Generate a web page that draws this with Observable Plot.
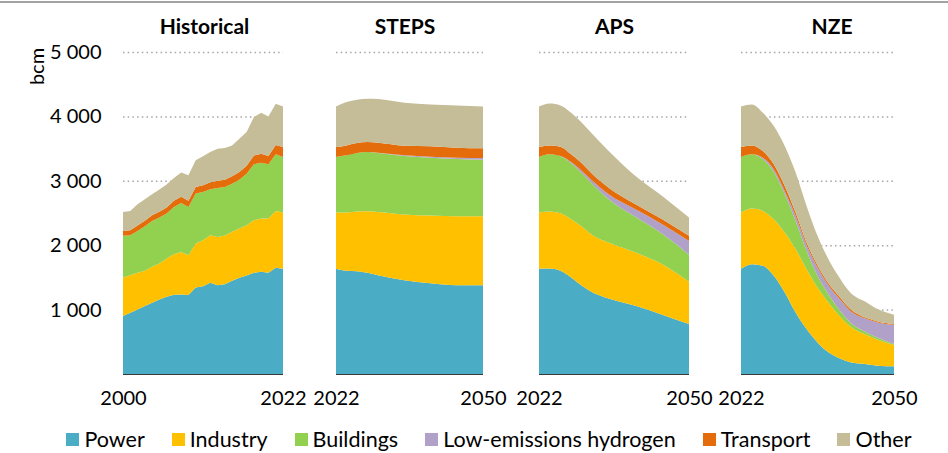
<!DOCTYPE html>
<html><head><meta charset="utf-8">
<script src="https://cdn.jsdelivr.net/npm/d3@7"></script>
<script src="https://cdn.jsdelivr.net/npm/@observablehq/plot@0.6"></script>
<style>
body{margin:0;background:#fff;}
#wrap{position:relative;width:948px;height:453px;overflow:hidden;font-family:Lato,sans-serif;background:#fff;}
#topline{position:absolute;left:0;top:1px;width:948px;height:2px;background:#a3a3a3;}
.panel{position:absolute;left:0;top:0;}
#legend{position:absolute;top:426px;left:0;width:978px;display:flex;justify-content:center;gap:27px;font-size:21.5px;color:#000;line-height:26px;}
.li{display:flex;align-items:center;white-space:nowrap;}
.sw{width:13px;height:13px;margin-right:5px;}
</style></head>
<body><div id="wrap"><div id="topline"></div><div id="legend"></div></div>
<script>
const sectors = ["Power","Industry","Buildings","Low-emissions hydrogen","Transport","Other"];
const colors = ["#4BACC6","#FFC000","#92D050","#B1A0C7","#E46C0A","#C4BD97"];
const yTicks = [1000,2000,3000,4000,5000];
const yTickLabels = ["1 000","2 000","3 000","4 000","5 000"];
const panelTitles = ["Historical","STEPS","APS","NZE"];

// Historical
const histYears = [2000,2001,2002,2003,2004,2005,2006,2007,2008,2009,2010,2011,2012,2013,2014,2015,2016,2017,2018,2019,2020,2021,2022];
const histPower = [899,951,1003,1054,1106,1158,1199,1230,1235,1225,1344,1364,1416,1380,1395,1447,1494,1530,1571,1586,1571,1648,1633];
const histIndustry = [600,584,568,548,558,558,594,630,661,620,682,714,739,749,755,760,764,780,817,827,842,884,874];
const histBuildings = [646,620,651,693,713,713,698,734,760,749,775,749,713,760,754,749,760,801,868,869,843,879,863];
const histHydrogen = [0,0,0,0,0,0,0,0,0,0,0,0,0,0,0,0,0,0,0,0,0,0,0];
const histTransport = [77,78,82,86,88,90,93,96,98,98,103,105,108,110,112,115,118,122,135,138,130,145,154];
const histOther = [294,299,332,332,326,344,357,354,373,393,414,448,471,500,493,479,517,524,599,637,614,640,631];

// STEPS
const stepsYears = [2022,2024,2026,2028,2030,2035,2040,2045,2050];
const stepsPower = [1633,1602,1597,1571,1535,1457,1411,1380,1380];
const stepsIndustry = [874,905,925,956,981,1019,1049,1070,1070];
const stepsBuildings = [863,888,909,920,915,909,899,888,878];
const stepsHydrogen = [0,0,0,2,5,10,15,20,25];
const stepsTransport = [154,155,155,153,156,150,161,156,151];
const stepsOther = [631,672,672,672,677,667,651,657,651];

// APS
const apsYears = [2022,2024,2026,2028,2030,2032,2035,2040,2045,2050];
const apsPower = [1633,1638,1602,1499,1370,1266,1173,1059,920,775];
const apsIndustry = [874,884,894,904,919,889,868,827,785,657];
const apsBuildings = [863,889,884,871,828,790,672,554,471,420];
const apsHydrogen = [0,0,5,18,35,52,78,118,150,215];
const apsTransport = [154,139,145,119,119,104,103,78,77,78];
const apsOther = [631,651,641,646,631,620,569,439,362,284];

// NZE
const nzeYears = [2022,2024,2026,2028,2030,2032,2034,2036,2038,2040,2042,2045,2047,2050];
const nzePower = [1633,1705,1680,1525,1266,956,698,491,336,243,181,150,129,119];
const nzeIndustry = [874,863,852,878,930,982,930,853,775,661,558,455,403,331];
const nzeBuildings = [863,843,801,734,595,439,284,181,129,93,62,41,31,15];
const nzeHydrogen = [0,0,26,41,51,78,88,129,140,176,181,207,238,300];
const nzeTransport = [154,139,103,78,78,51,41,36,31,31,26,15,16,10];
const nzeOther = [631,636,595,594,620,621,569,455,372,295,258,243,191,145];

function toRows(years, series) {
  const rows = [];
  years.forEach((yr, i) => sectors.forEach((s, k) => rows.push({year: yr, sector: s, value: series[k][i]})));
  return rows;
}

const panels = [
  {title: panelTitles[0], years: histYears, series: [histPower,histIndustry,histBuildings,histHydrogen,histTransport,histOther], left: 123, right: 283, curve: "linear", titleDx: 1},
  {title: panelTitles[1], years: stepsYears, series: [stepsPower,stepsIndustry,stepsBuildings,stepsHydrogen,stepsTransport,stepsOther], left: 336, right: 483, curve: "monotone-x", titleDx: -5},
  {title: panelTitles[2], years: apsYears, series: [apsPower,apsIndustry,apsBuildings,apsHydrogen,apsTransport,apsOther], left: 539, right: 689, curve: "monotone-x", titleDx: 0},
  {title: panelTitles[3], years: nzeYears, series: [nzePower,nzeIndustry,nzeBuildings,nzeHydrogen,nzeTransport,nzeOther], left: 741, right: 894, curve: "monotone-x", titleDx: 14}
];

const wrap = document.getElementById("wrap");
panels.forEach((p, idx) => {
  const rows = toRows(p.years, p.series);
  const x0 = p.years[0], x1 = p.years[p.years.length - 1];
  const marks = [
    Plot.ruleY(yTicks, {stroke: "#a6a6a6", strokeWidth: 1.5, strokeDasharray: "1.5 3.2"}),
    Plot.areaY(rows, {x: "year", y: "value", fill: "sector", z: "sector", order: sectors, curve: p.curve}),
    Plot.ruleY([0], {stroke: "#3a3a3a", strokeWidth: 1}),
    Plot.axisX({ticks: [x0, x1], tickSize: 0, tickPadding: 16, tickFormat: d => String(d), fontSize: 20, label: null}),
    Plot.text([p.title], {frameAnchor: "top", lineAnchor: "middle", dy: -25, dx: p.titleDx, fontWeight: "bold", fontSize: 21, fill: "#000"})
  ];
  if (idx === 0) {
    marks.push(Plot.axisY({ticks: yTicks, tickSize: 0, tickPadding: 22, fontSize: 20, tickFormat: d => yTickLabels[yTicks.indexOf(d)], label: null}));
    marks.push(Plot.text(["bcm"], {frameAnchor: "top-left", textAnchor: "middle", lineAnchor: "middle", dx: -86, dy: 14, rotate: -90, fontSize: 20, fill: "#000"}));
  }
  const chart = Plot.plot({
    width: 948, height: 420,
    marginLeft: p.left, marginRight: 948 - p.right, marginTop: 52, marginBottom: 46,
    style: {background: "transparent", overflow: "visible", fontFamily: "Lato, sans-serif", color: "#000"},
    x: {domain: [x0, x1], label: null},
    y: idx === 0 ? {domain: [0, 5000], label: null} : {domain: [0, 5000], axis: null},
    color: {domain: sectors, range: colors},
    marks
  });
  chart.classList.add("panel");
  wrap.appendChild(chart);
});

const legend = document.getElementById("legend");
sectors.forEach((s, i) => {
  const it = document.createElement("div");
  it.className = "li";
  it.innerHTML = `<span class="sw" style="background:${colors[i]}"></span><span>${s}</span>`;
  legend.appendChild(it);
});
</script></body></html>
